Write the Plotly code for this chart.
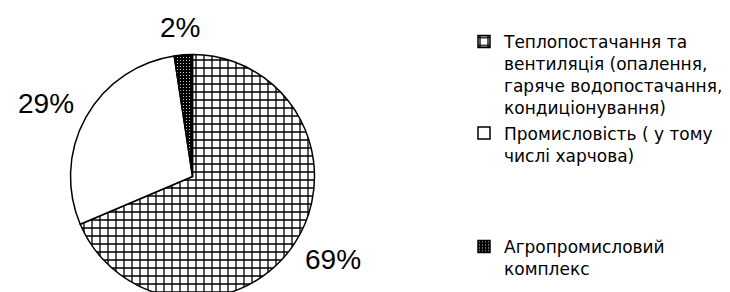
import math
import plotly.graph_objects as go

labels = [
    "Теплопостачання та<br>вентиляція (опалення,<br>гаряче водопостачання,<br>кондиціонування)",
    "Промисловість ( у тому<br>числі харчова)<br> <br> <br> ",
    "Агропромисловий<br>комплекс",
]
values = [68.6, 29.0, 2.4]

W, H = 730, 292
cx, cy, r = 184.5, 168.5, 122
LABEL_SIZE = 28
LABEL_GAP = 18

fig = go.Figure(go.Pie(
    labels=labels,
    values=values,
    sort=False,
    direction="clockwise",
    rotation=0,
    textinfo="none",
    marker=dict(
        colors=["white", "white", "black"],
        line=dict(color="black", width=1.5),
        pattern=dict(
            shape=["+", "", "."],
            fgcolor=["black", "black", "white"],
            bgcolor=["white", "white", "black"],
            size=[8, 8, 3],
            solidity=[0.3, 0.3, 0.1],
        ),
    ),
    domain=dict(x=[(cx - r) / W, (cx + r) / W], y=[(H - cy - r) / H, (H - cy + r) / H]),
    hoverinfo="skip",
))

# percentage labels placed outside each slice, along its mid-angle
total = sum(values)
cum = 0.0
for v in values:
    pct = f"{round(100 * v / total)}%"
    theta = math.radians(360 * (cum + v / 2) / total)
    cum += v
    s, c = math.sin(theta), math.cos(theta)
    R = r + LABEL_GAP
    px = cx + R * s
    py = cy - R * c
    w = LABEL_SIZE * (0.556 * (len(pct) - 1) + 0.889)
    h = LABEL_SIZE * 0.7
    fig.add_annotation(
        x=px / W, y=1 - py / H, xref="paper", yref="paper",
        text=pct, showarrow=False, xanchor="center", yanchor="middle",
        xshift=w / 2 * s, yshift=h / 2 * c,
        font=dict(size=LABEL_SIZE, color="black", family="Liberation Sans, Arial"),
    )

fig.update_layout(
    width=W, height=H,
    margin=dict(l=0, r=0, t=0, b=0, autoexpand=False),
    paper_bgcolor="white",
    plot_bgcolor="white",
    font=dict(family="DejaVu Sans", size=17, color="black"),
    legend=dict(
        x=456 / W, y=1 - 16 / H, xanchor="left", yanchor="top",
        valign="top",
        font=dict(size=17, color="black", family="DejaVu Sans"),
        bgcolor="rgba(0,0,0,0)",
    ),
    showlegend=True,
)

fig.write_html("out.html")
